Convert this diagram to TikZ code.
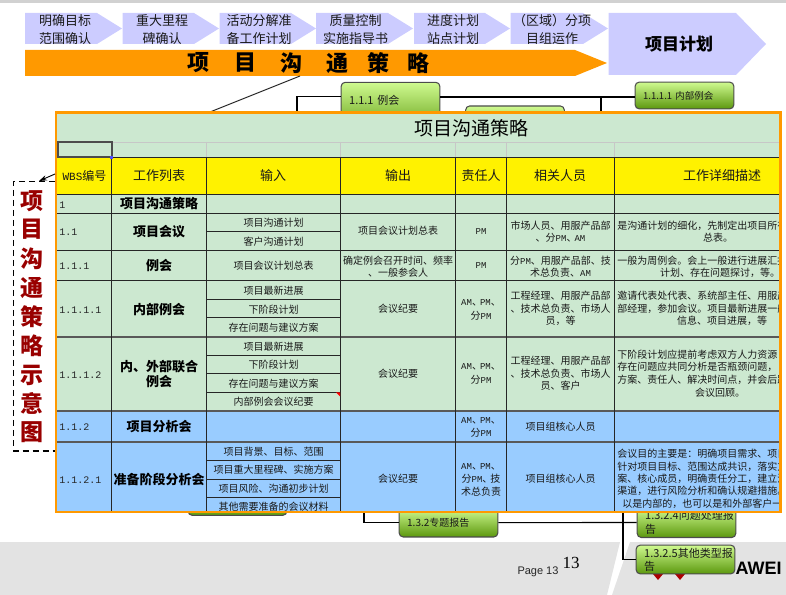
\documentclass[tikz,border=0pt]{standalone}
\usepackage{fontspec}
\setmainfont{Noto Sans CJK SC}
\newfontfamily\monof{Liberation Mono}
\newfontfamily\arialf{Liberation Sans}
\newfontfamily\timesf{Liberation Serif}
\usetikzlibrary{arrows.meta}
\definecolor{chevc}{HTML}{CCCCFF}
\definecolor{orangec}{HTML}{FF9900}
\definecolor{greenc}{HTML}{CCE8D0}
\definecolor{bluec}{HTML}{99CCFF}
\definecolor{redc}{HTML}{990000}
\definecolor{bandc}{HTML}{E3E3E3}
\definecolor{boxtop}{HTML}{CFFA90}
\definecolor{boxmid}{HTML}{A6DC5C}
\definecolor{boxbot}{HTML}{5C980E}
\newcommand{\px}[1]{\fontsize{\dimexpr #1pt*3/4\relax}{\dimexpr #1pt*9/10\relax}\selectfont}
\newcommand{\lat}[1]{{\monof\px{9}#1}}
\newcommand{\dun}{、\kern-1.5pt}
\newcounter{cellno}
\newcommand{\tc}[4][txt]{\stepcounter{cellno}\node[#1] (cell\thecellno) at (#2,#3) {#4};}
\newcommand{\tl}[3]{\stepcounter{cellno}\node[txt,anchor=west] (cell\thecellno) at (#1,#2) {#3};}
\tikzset{
 x=0.75pt,y=-0.75pt,
 txt/.style={inner sep=0pt,font=\px{10},text=black!90,align=center},
 hdr/.style={inner sep=0pt,font=\px{13},text=black!90},
 work/.style={inner sep=0pt,font=\bfseries\px{13},align=center,text=black},
 wbs/.style={inner sep=0pt,anchor=west,font=\monof\px{10},text=black!85},
 chevtxt/.style={inner sep=0pt,font=\px{13},align=center,text=black!90},
 bx/.style={rectangle,rounded corners=3pt,draw=black!70,line width=0.8pt,top color=boxtop,middle color=boxmid,bottom color=boxbot,
   inner xsep=6pt,inner ysep=0pt,align=left,text=black!90,minimum width=74pt,text width=62pt},
 conn/.style={draw=black,line width=0.8pt},
 row/.style={draw=black!85,line width=0.75pt},
 rowb/.style={draw=black!65,line width=1.1pt},
 vert/.style={inner sep=0pt,font=\bfseries\px{23},text=redc},
 stra/.style={inner sep=0pt,font=\bfseries\px{22},text=black},
}
\begin{document}
\begin{tikzpicture}
\useasboundingbox (0,0) rectangle (786,595);
% page frame
\fill[black!18] (0,0) rectangle (786,3);
\fill[bandc] (0,542) -- (620,542) -- (607,595) -- (0,595) -- cycle;
\fill[bandc] (630,542) -- (786,542) -- (786,595) -- (612,595) -- cycle;
\node[inner sep=0pt,font=\arialf\px{11},text=black!85] (pg) at (538,572) {Page 13};
\node[inner sep=0pt,font=\timesf\px{17},text=black] (pgn) at (571,563) {13};
\node[inner sep=0pt,anchor=east,font=\arialf\bfseries\px{18},text=black] (logo) at (782,568) {AWEI};
\fill[redc!80!red] (653,574) -- (663,574) -- (658,580) -- cycle;
\fill[redc!80!red] (675,574) -- (685,574) -- (680,580) -- cycle;
% top chevrons
\fill[chevc] (25,13) -- (97,13) -- (122,28.5) -- (97,44) -- (25,44) -- cycle;
\fill[chevc] (122.5,13) -- (194,13) -- (219,28.5) -- (194,44) -- (122.5,44) -- cycle;
\fill[chevc] (219.5,13) -- (291,13) -- (316,28.5) -- (291,44) -- (219.5,44) -- cycle;
\fill[chevc] (316,13) -- (388,13) -- (413,28.5) -- (388,44) -- (316,44) -- cycle;
\fill[chevc] (414,13) -- (485,13) -- (510,28.5) -- (485,44) -- (414,44) -- cycle;
\fill[chevc] (510.5,13) -- (583,13) -- (608,28.5) -- (583,44) -- (510.5,44) -- cycle;
\fill[chevc] (608.5,13) -- (736,13) -- (766,44) -- (736,75) -- (608.5,75) -- cycle;
\node[chevtxt] (c1) at (65,29.5) {明确目标\\[1.5pt]范围确认};
\node[chevtxt] (c2) at (162,29.5) {重大里程\\[1.5pt]碑确认};
\node[chevtxt] (c3) at (259,29.5) {活动分解准\\[1.5pt]备工作计划};
\node[chevtxt] (c4) at (355.5,29.5) {质量控制\\[1.5pt]实施指导书};
\node[chevtxt] (c5) at (453,29.5) {进度计划\\[1.5pt]站点计划};
\node[chevtxt] (c6) at (552,29.5) {（区域）分项\\[1.5pt]目组运作};
\node[inner sep=0pt,font=\bfseries\px{17},text=black] (c7) at (679,44) {项目计划};
% orange arrow
\fill[orangec] (25,50) -- (575,50) -- (607,63) -- (575,76) -- (25,76) -- cycle;
\node[stra] (s1) at (198,63) {项};
\node[stra] (s2) at (245,63) {目};
\node[stra] (s3) at (291,63) {沟};
\node[stra] (s4) at (337,63) {通};
\node[stra] (s5) at (378,63) {策};
\node[stra] (s6) at (418,63) {略};
\coordinate (st) at (300,76);
\coordinate (tb) at (210,112);
\draw[line width=0.7pt,black!85] (st) -- (tb);
% mind-map boxes
\coordinate (j1) at (297,112);
\coordinate (j2) at (601,112);
\coordinate (j3) at (364,512);
\coordinate (j4) at (623,512);
\coordinate (b111w) at (341,96.5);
\coordinate (b111e) at (440,97);
\node[bx,minimum height=40pt,font=\px{11},text depth=0pt] (b111) at (390.5,109) {\raisebox{14pt}{1.1.1 例会}};
\node[bx,minimum height=20pt,font=\px{9.5}] (b1111) at (684.5,95.5) {1.1.1.1 内部例会};
\coordinate (b1111w) at (635,97);
\node[bx,minimum height=30pt] (b112) at (515,126) {};
\node[bx,minimum height=20pt] (bhid) at (237.5,502) {};
\node[bx,minimum height=21.5pt,font=\px{10},anchor=south] (b132) at (448.5,537.5) {1.3.2专题报告};
\node[bx,minimum height=22.5pt,font=\px{11},anchor=south] (b1324) at (686.5,538) {1.3.2.4问题处理报\\告};
\node[bx,minimum height=21.5pt,font=\px{11}] (b1325) at (685.5,559.5) {1.3.2.5其他类型报\\告};
\draw[conn] (j1) |- (b111w);
\draw[conn] (b111e) -- (b1111w);
\draw[conn] (j2) -- (j2 |- b1111w);
\draw[conn] (j3) |- (b132.west);
\draw[conn] (b132.east) -- (b1324.west);
\draw[conn] (j4) |- (b1325.west);
% table
\node[rectangle,fill=greenc,minimum width=542.5pt,minimum height=298.5pt,inner sep=0pt,anchor=north west] (table) at (56,112.5) {};
\fill[yellow] (57,157.5) rectangle (780,194.5);
\fill[bluec] (57,411) rectangle (780,512);
\begin{scope}
\clip (57,114) rectangle (779.5,511);
% blank row grid
\draw[black!22,line width=0.7pt] (57,142) -- (780,142);
\foreach \cx in {206.5,340.5,455.5,506.5,614.5} \draw[black!22,line width=0.7pt] (\cx,142) -- (\cx,157.5);
% rows
\foreach \ry in {157.5,194.5,213.5,250.5,281} \draw[row] (57,\ry) -- (780,\ry);
\draw[rowb] (57,337) -- (780,337);
\draw[rowb] (57,411) -- (780,411);
\draw[rowb] (57,442) -- (780,442);
\foreach \cx in {111.5,206.5,340.5,455.5,506.5,614.5} \draw[row] (\cx,157.5) -- (\cx,512);
\foreach \ry in {232,299.5,318,355.5,374,392.5,460.5,479,497.5} \draw[row] (206.5,\ry) -- (340.5,\ry);
\draw[black!70,line width=1.5pt] (57.5,142) rectangle (111.5,157.5);
\fill[blue!70!white] (110,156.5) rectangle (112.5,159);
\fill[red] (336,392.5) -- (340,392.5) -- (340,396.5) -- cycle;
% title
\node[inner sep=0pt,font=\px{19},text=black] (title) at (471,128) {项目沟通策略};
% header
\node[inner sep=0pt,font=\px{12},text=black!90] (h1) at (84.5,176) {{\monof\px{11}WBS}编号};
\node[hdr] (h2) at (159,176) {工作列表};
\node[hdr] (h3) at (273,176) {输入};
\node[hdr] (h4) at (398,176) {输出};
\node[hdr] (h5) at (481,176) {责任人};
\node[hdr] (h6) at (560,176) {相关人员};
\node[hdr] (h7) at (722,176) {工作详细描述};
% wbs numbers
\node[wbs] (w1) at (59,205) {1};
\node[wbs] (w2) at (59,232) {1.1};
\node[wbs] (w3) at (59,266) {1.1.1};
\node[wbs] (w4) at (59,310) {1.1.1.1};
\node[wbs] (w5) at (59,375) {1.1.1.2};
\node[wbs] (w6) at (59,427) {1.1.2};
\node[wbs] (w7) at (59,480) {1.1.2.1};
% work names
\node[work] (n1) at (159,204) {项目沟通策略};
\node[work] (n2) at (159,232) {项目会议};
\node[work] (n3) at (159,266) {例会};
\node[work] (n4) at (159,309.5) {内部例会};
\node[work] (n5) at (159,374) {内、外部联合\\例会};
\node[work] (n6) at (159,427) {项目分析会};
\node[work] (n7) at (159,479) {准备阶段分析会};
% input
\tc{273.5}{223}{项目沟通计划}
\tc{273.5}{241.5}{客户沟通计划}
\tc{273.5}{266}{项目会议计划总表}
\tc{273.5}{291}{项目最新进展}
\tc{273.5}{309.5}{下阶段计划}
\tc{273.5}{328}{存在问题与建议方案}
\tc{273.5}{346.5}{项目最新进展}
\tc{273.5}{365}{下阶段计划}
\tc{273.5}{383.5}{存在问题与建议方案}
\tc{273.5}{402}{内部例会会议纪要}
\tc{273.5}{451.5}{项目背景、目标、范围}
\tc{273.5}{470}{项目重大里程碑、实施方案}
\tc{273.5}{488.5}{项目风险、沟通初步计划}
\tc{273.5}{507}{其他需要准备的会议材料}
% output
\tc{398}{231}{项目会议计划总表}
\tc{398}{261}{确定例会召开时间、频率}
\tc{398}{273}{、一般参会人}
\tc{398}{309}{会议纪要}
\tc{398}{374}{会议纪要}
\tc{398}{479}{会议纪要}
% owner
\tc{481}{231.5}{\lat{PM}}
\tc{481}{266}{\lat{PM}}
\tc{481}{303}{\lat{AM}\dun\lat{PM}、}
\tc{481}{316}{分\lat{PM}}
\tc{481}{367}{\lat{AM}\dun\lat{PM}、}
\tc{481}{380}{分\lat{PM}}
\tc{481}{421}{\lat{AM}\dun\lat{PM}、}
\tc{481}{433}{分\lat{PM}}
\tc{481}{467}{\lat{AM}\dun\lat{PM}、}
\tc{481}{479}{分\lat{PM}\dun 技}
\tc{481}{491.5}{术总负责}
% related
\tc{560.5}{225.5}{市场人员、用服产品部}
\tc{560.5}{238}{、分\lat{PM}\dun\lat{AM}}
\tc{560.5}{260.5}{分\lat{PM}、用服产品部、技}
\tc{560.5}{272.5}{术总负责、\lat{AM}}
\tc{560.5}{296}{工程经理、用服产品部}
\tc{560.5}{309}{、技术总负责、市场人}
\tc{560.5}{321}{员，等}
\tc{560.5}{361}{工程经理、用服产品部}
\tc{560.5}{374}{、技术总负责、市场人}
\tc{560.5}{386}{员、客户}
\tc{560.5}{427}{项目组核心人员}
\tc{560.5}{479}{项目组核心人员}
% detail
\tl{617}{225.5}{是沟通计划的细化，先制定出项目所有}
\tc{718}{238}{总表。}
\tl{617}{260.5}{一般为周例会。会上一般进行进展汇报}
\tc{720}{272.5}{计划、存在问题探讨，等。}
\tl{617}{296}{邀请代表处代表、系统部主任、用服产}
\tl{617}{309}{部经理，参加会议。项目最新进展一般}
\tc{722}{321}{信息、项目进展，等}
\tl{617}{355}{下阶段计划应提前考虑双方人力资源}
\tl{617}{367}{存在问题应共同分析是否瓶颈问题，}
\tl{617}{380}{方案、责任人、解决时间点，并会后跟}
\tc{720}{393}{会议回顾。}
\tl{617}{454}{会议目的主要是：明确项目需求、项目}
\tl{617}{466.5}{针对项目目标、范围达成共识，落实方}
\tl{617}{479}{案、核心成员，明确责任分工，建立沟}
\tl{617}{491}{渠道，进行风险分析和确认规避措施。}
\tl{622}{504}{以是内部的，也可以是和外部客户一}
\end{scope}
\draw[orangec,line width=1.6pt] (56,112.5) rectangle (780.5,512);
% side note
\coordinate (note) at (39,181);
\coordinate (ntop) at (55,174);
\draw[black,line width=0.7pt,-{Stealth[length=6pt,width=4pt]}] (ntop) -- (note);
\draw[black,line width=0.8pt,dash pattern=on 4.5pt off 3pt] (55,181.5) -- (13.5,181.5) -- (13.5,451) -- (55,451);
\node[vert] (v1) at (32.5,201.5) {项};
\node[vert] (v2) at (32.5,229.5) {目};
\node[vert] (v3) at (32.5,258.5) {沟};
\node[vert] (v4) at (32.5,288) {通};
\node[vert] (v5) at (32.5,317) {策};
\node[vert] (v6) at (32.5,345.5) {略};
\node[vert] (v7) at (32.5,375) {示};
\node[vert] (v8) at (32.5,403.5) {意};
\node[vert] (v9) at (32.5,432) {图};
\end{tikzpicture}
\end{document}
